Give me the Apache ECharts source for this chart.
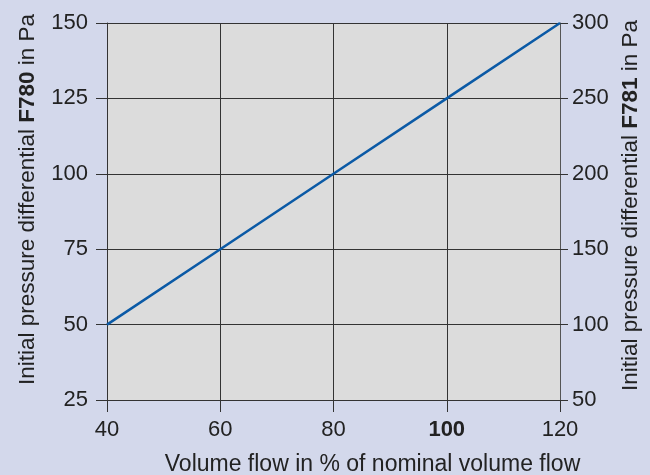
<!DOCTYPE html>
<html>
<head>
<meta charset="utf-8">
<script src="https://cdn.jsdelivr.net/npm/echarts@6/dist/echarts.min.js"></script>
<style>
html,body{margin:0;padding:0;background:#d3d8eb;}
#c{width:650px;height:475px;}
</style>
</head>
<body>
<div id="c"></div>
<script>
var xValues = [40, 60, 80, 100, 120];
var leftValues = [50, 75, 100, 125, 150];
var xTicks = [40, 60, 80, 100, 120];
var leftTicks = [25, 50, 75, 100, 125, 150];
var rightTicks = [50, 100, 150, 200, 250, 300];

var FONT = 'Liberation Sans, Arial, sans-serif';
var chart = echarts.init(document.getElementById('c'));
var lineData = xValues.map(function (x, i) { return [x, leftValues[i]]; });

chart.setOption({
  backgroundColor: '#d3d8eb',
  animation: false,
  grid: {
    left: 107, right: 90, top: 23, bottom: 75, show: true,
    backgroundColor: '#dcdcdc', borderWidth: 0,
    containLabel: false, outerBoundsMode: 'none'
  },
  xAxis: {
    type: 'value', min: 40, max: 120, interval: 20,
    name: 'Volume flow in % of nominal volume flow',
    nameLocation: 'middle', nameGap: 53,
    nameTextStyle: { fontFamily: FONT, fontSize: 23, color: '#222', padding: [0, 0, 0, 78] },
    axisLine: { show: true, lineStyle: { color: '#333', width: 1 } },
    axisTick: { show: true, length: 12, lineStyle: { color: '#333' } },
    splitLine: { show: true, lineStyle: { color: '#333', width: 1 } },
    axisLabel: {
      margin: 19, fontFamily: FONT, fontSize: 22, color: '#222',
      formatter: function (v) { return v === 100 ? '{b|' + v + '}' : String(v); },
      rich: { b: { fontFamily: FONT, fontSize: 22, fontWeight: 'bold', color: '#222' } }
    }
  },
  yAxis: [
    {
      type: 'value', min: 25, max: 150, interval: 25, position: 'left',
      name: '{n|Initial pressure differential }{b|F780}{n| in Pa}',
      nameLocation: 'middle', nameGap: 68, nameRotate: 90,
      nameTextStyle: {
        padding: [0, 0, 0, 24],
        rich: {
          n: { fontFamily: FONT, fontSize: 22.5, color: '#222' },
          b: { fontFamily: FONT, fontSize: 22.5, fontWeight: 'bold', color: '#222' }
        }
      },
      axisLine: { show: true, lineStyle: { color: '#333', width: 1 } },
      axisTick: { show: true, length: 11, lineStyle: { color: '#333' } },
      splitLine: { show: true, lineStyle: { color: '#333', width: 1 } },
      axisLabel: { margin: 19, fontFamily: FONT, fontSize: 22, color: '#222' }
    },
    {
      type: 'value', min: 50, max: 300, interval: 50, position: 'right',
      name: '{n|Initial pressure differential }{b|F781}{n| in Pa}',
      nameLocation: 'middle', nameGap: 59, nameRotate: 90,
      nameTextStyle: {
        padding: [0, 0, 0, 12],
        rich: {
          n: { fontFamily: FONT, fontSize: 22.5, color: '#222' },
          b: { fontFamily: FONT, fontSize: 22.5, fontWeight: 'bold', color: '#222' }
        }
      },
      axisLine: { show: true, lineStyle: { color: '#555', width: 1 } },
      axisTick: { show: true, length: 8, lineStyle: { color: '#333' } },
      splitLine: { show: false },
      axisLabel: { margin: 12, fontFamily: FONT, fontSize: 22, color: '#222' }
    }
  ],
  series: [{
    type: 'line', yAxisIndex: 0, data: lineData, showSymbol: false,
    lineStyle: { color: '#0b5aa6', width: 2.5 }
  }]
});
</script>
</body>
</html>
